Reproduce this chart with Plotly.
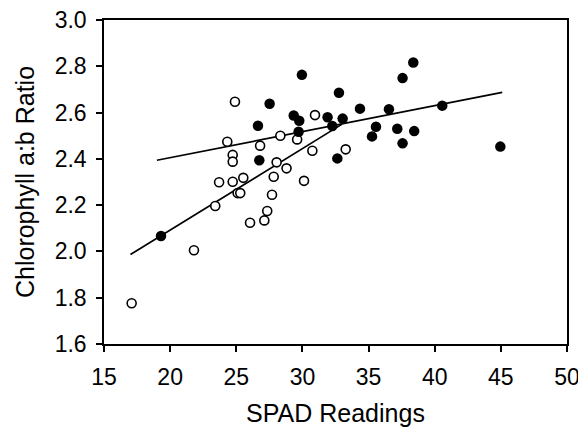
import plotly.graph_objects as go

open_x = [17.09, 21.8, 23.41, 23.7, 24.32, 24.73, 24.73, 24.73, 24.9, 25.1, 25.3, 25.53, 26.04,
          26.8, 27.12, 27.34, 27.7, 27.83, 28.05, 28.33, 28.8, 29.6, 30.12, 30.75, 30.95, 33.27]
open_y = [1.776, 2.005, 2.196, 2.299, 2.474, 2.417, 2.388, 2.301, 2.647, 2.252, 2.252, 2.318, 2.124,
          2.457, 2.134, 2.175, 2.245, 2.323, 2.385, 2.50, 2.359, 2.484, 2.305, 2.435, 2.589, 2.441]

filled_x = [19.31, 26.64, 26.74, 27.52, 29.34, 29.71, 29.76, 29.96, 31.9, 32.26, 32.64, 32.76,
            33.04, 34.35, 35.26, 35.56, 36.54, 37.17, 37.57, 37.57, 38.38, 38.45, 40.57, 44.96]
filled_y = [2.067, 2.543, 2.394, 2.638, 2.587, 2.517, 2.565, 2.763, 2.58, 2.542, 2.402, 2.686,
            2.574, 2.617, 2.497, 2.539, 2.614, 2.53, 2.749, 2.467, 2.816, 2.52, 2.63, 2.453]

upper_line_x = [19.0, 45.1]
upper_line_y = [2.394, 2.687]
lower_line_x = [17.0, 33.0]
lower_line_y = [1.987, 2.55]

x_ticks = [15, 20, 25, 30, 35, 40, 45, 50]
y_ticks = [1.6, 1.8, 2.0, 2.2, 2.4, 2.6, 2.8, 3.0]

fig = go.Figure()
fig.add_trace(go.Scatter(x=upper_line_x, y=upper_line_y, mode="lines",
                         line=dict(color="black", width=1.7), showlegend=False))
fig.add_trace(go.Scatter(x=lower_line_x, y=lower_line_y, mode="lines",
                         line=dict(color="black", width=1.7), showlegend=False))
fig.add_trace(go.Scatter(x=open_x, y=open_y, mode="markers",
                         marker=dict(symbol="circle", size=9, color="white",
                                     line=dict(color="black", width=1.6)),
                         showlegend=False))
fig.add_trace(go.Scatter(x=filled_x, y=filled_y, mode="markers",
                         marker=dict(symbol="circle", size=10.5, color="black",
                                     line=dict(color="black", width=0)),
                         showlegend=False))

font = "Liberation Sans, Arial, sans-serif"
fig.update_layout(
    width=578, height=419,
    margin=dict(l=96, r=19, t=12, b=83, autoexpand=False),
    paper_bgcolor="white", plot_bgcolor="white",
    font=dict(family=font, color="black", size=23),
    xaxis=dict(range=[15, 50], tickvals=x_ticks, ticktext=[str(v) for v in x_ticks],
               showgrid=False, zeroline=False, showline=True, linecolor="black", linewidth=1.5,
               mirror=True, ticks="outside", ticklen=6, tickwidth=1.5, tickcolor="black",
               tickfont=dict(size=23), ticklabelstandoff=6, automargin=False,
               ticklabeloverflow="allow",
               title=dict(text="SPAD Readings", font=dict(size=25), standoff=18)),
    yaxis=dict(range=[1.6, 3.0], tickvals=y_ticks, ticktext=[f"{v:.1f}" for v in y_ticks],
               showgrid=False, zeroline=False, showline=True, linecolor="black", linewidth=1.5,
               mirror=True, ticks="outside", ticklen=6, tickwidth=1.5, tickcolor="black",
               tickfont=dict(size=23), ticklabelstandoff=5, automargin=False,
               ticklabeloverflow="allow",
               title=dict(text="Chlorophyll a:b Ratio", font=dict(size=25), standoff=13)),
)
fig.write_html("out.html")
